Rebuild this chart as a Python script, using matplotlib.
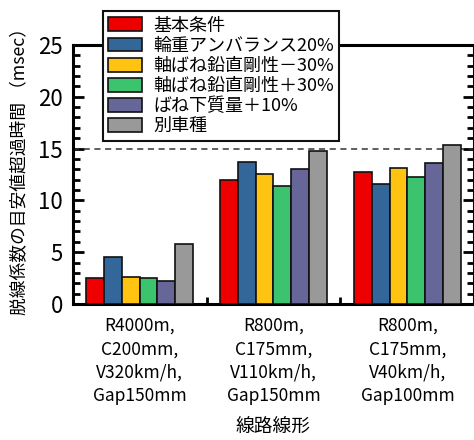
import matplotlib
matplotlib.use('Agg')
import matplotlib.pyplot as plt
import numpy as np

plt.rcParams['font.family'] = ['Noto Sans CJK JP', 'DejaVu Sans']

# data
groups = ['R4000m,\nC200mm,\nV320km/h,\nGap150mm',
          'R800m,\nC175mm,\nV110km/h,\nGap150mm',
          'R800m,\nC175mm,\nV40km/h,\nGap100mm']
series = ['基本条件', '輪重アンバランス20%', '軸ばね鉛直剛性－30%',
          '軸ばね鉛直剛性＋30%', 'ばね下質量＋10%', '別車種']
base = [2.5, 12.0, 12.7]
imbalance = [4.5, 13.7, 11.55]
spring_minus = [2.6, 12.5, 13.1]
spring_plus = [2.5, 11.35, 12.25]
unsprung = [2.2, 13.05, 13.6]
other_car = [5.8, 14.8, 15.3]
values = [base, imbalance, spring_minus, spring_plus, unsprung, other_car]
colors = ['#ee0000', '#336699', '#ffc412', '#3cc36e', '#666699', '#999999']
limit = 15

fig = plt.figure(figsize=(4.74, 4.40), dpi=100)
ax = fig.add_axes([0.153, 0.309, 0.848, 0.589])

x = np.arange(len(groups))
w = 0.8 / len(series)
for i, (name, vals) in enumerate(zip(series, values)):
    ax.bar(x - 0.4 + w * (i + 0.5), vals, w, color=colors[i], edgecolor='#111111',
           linewidth=1.2, label=name, zorder=3)

ax.axhline(limit, color='#333333', linestyle=(0, (4, 3)), linewidth=1.1, zorder=2)

ax.set_xlim(-0.5, 2.5)
ax.set_ylim(0, 25)
ax.set_yticks(range(0, 26, 5))
ax.set_yticks(range(0, 26), minor=True)
ax.set_xticks(x)
ax.set_xticklabels(groups, fontsize=12.5, linespacing=1.4)
ax.set_xticks([0.5, 1.5], minor=True)
ax.tick_params(axis='x', which='major', length=0, pad=9)
ax.tick_params(axis='x', which='minor', direction='in', length=5, width=2)
ax.tick_params(axis='y', which='major', direction='in', length=8, width=2,
               right=True, labelsize=16, pad=7)
ax.tick_params(axis='y', which='minor', direction='in', length=5, width=2, right=True)
for s in ax.spines.values():
    s.set_linewidth(2.2)

ax.set_ylabel('脱線係数の目安値超過時間 （msec）', fontsize=12.8)
ax.yaxis.set_label_coords(-0.108, 0.53)
ax.set_xlabel('線路線形', fontsize=13.5, labelpad=8)

leg = ax.legend(loc='upper left', bbox_to_anchor=(0.075, 1.13), borderaxespad=0,
                fontsize=13, labelspacing=0.12, handlelength=1.9, handleheight=0.8,
                handletextpad=0.6, borderpad=0.3, fancybox=False, framealpha=1,
                edgecolor='#111111')
leg.get_frame().set_linewidth(1.5)
leg.set_zorder(5)

fig.savefig('out.png', dpi=100)
